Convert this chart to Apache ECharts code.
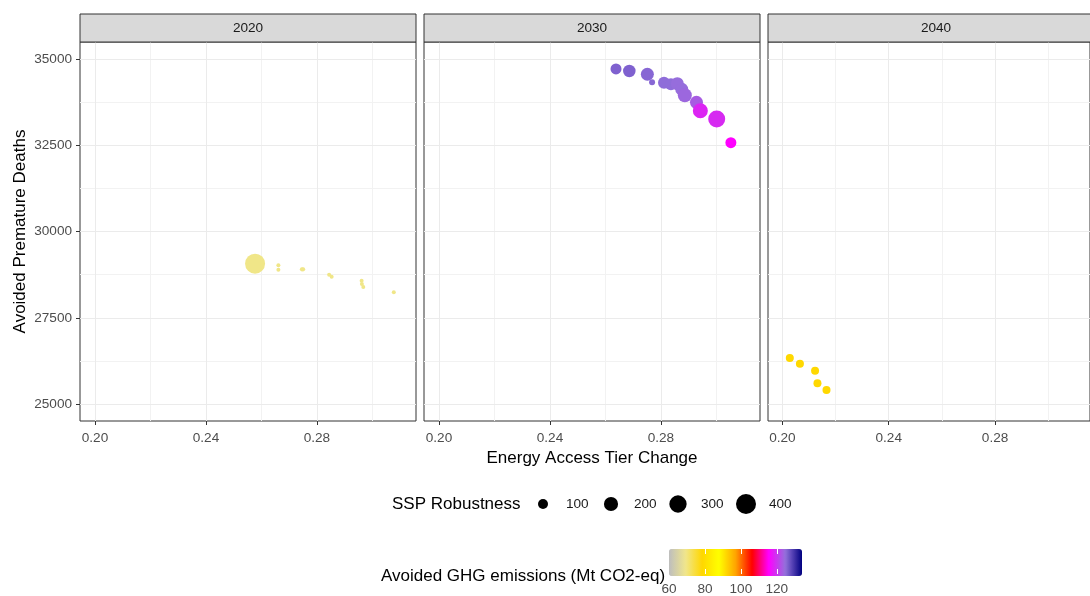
<!DOCTYPE html>
<html><head><meta charset="utf-8">
<script src="https://cdn.jsdelivr.net/npm/echarts@6/dist/echarts.min.js"></script>
<style>html,body{margin:0;padding:0;background:#fff}#c{width:1090px;height:596px}</style>
</head><body><div id="c"></div>
<script>
// ---------- data ----------
const years = ['2020', '2030', '2040'];

const tier2020   = [0.2577, 0.2661, 0.2661, 0.2746, 0.2750, 0.2844, 0.2853, 0.2961, 0.2962, 0.2967, 0.3077];
const deaths2020 = [29067, 29020, 28893, 28904, 28904, 28748, 28690, 28574, 28478, 28391, 28238];
const robust2020 = [400, 16, 16, 18, 18, 16, 16, 16, 16, 16, 16];
const ghg2020    = [69.5, 69.5, 69.5, 69.5, 69.5, 69.5, 69.5, 69.5, 69.5, 69.5, 69.5];

const tier2030   = [0.2638, 0.2686, 0.2751, 0.2768, 0.2811, 0.2836, 0.2859, 0.2875, 0.2886, 0.2928, 0.2942, 0.3001, 0.3052];
const deaths2030 = [34710, 34652, 34557, 34324, 34313, 34267, 34285, 34122, 33948, 33745, 33501, 33261, 32574];
const robust2030 = [121, 156, 169, 36, 144, 144, 169, 169, 196, 169, 225, 289, 121];
const ghg2030    = [126, 126, 125.5, 125.5, 125, 125, 124.5, 124.5, 124, 123, 118.5, 119, 115.5];

const tier2040   = [0.2028, 0.2066, 0.2123, 0.2132, 0.2166];
const deaths2040 = [26333, 26168, 25965, 25600, 25406];
const robust2040 = [64, 64, 64, 64, 64];
const ghg2040    = [78.8, 78.8, 78.8, 78.8, 78.8];

const xMajorTicks = [0.20, 0.24, 0.28];
const xMinorTicks = [0.22, 0.26, 0.30];
const yMajorTicks = [25000, 27500, 30000, 32500, 35000];
const yMinorTicks = [26250, 28750, 31250, 33750];
const sizeBreaks  = [100, 200, 300, 400];
const colorBreaks = [60, 80, 100, 120];
const colorStops  = ['#BEBEBE', '#F0E68C', '#FFD700', '#FFFF00', '#FFA500', '#FF0000', '#FF00FF', '#9370DB', '#000080'];

// ---------- layout ----------
const FONT = 'Liberation Sans, Arial, sans-serif';
const panelLeft = [80, 424, 768];
const panelW = 336, panelTop = 42, panelH = 379;
const xMin = 0.1946, xMax = 0.3157, yMin = 24508, yMax = 35492;
const ghgMin = 60, ghgMax = 134;
const sizeFn = v => Math.sqrt(v);

const seriesData = [
  tier2020.map((x, i) => [x, deaths2020[i], robust2020[i], ghg2020[i]]),
  tier2030.map((x, i) => [x, deaths2030[i], robust2030[i], ghg2030[i]]),
  tier2040.map((x, i) => [x, deaths2040[i], robust2040[i], ghg2040[i]])
];

const grids = [], xAxes = [], yAxes = [], series = [], graphics = [];

years.forEach((yr, i) => {
  grids.push({left: panelLeft[i], top: panelTop, width: panelW, height: panelH,
    show: true, borderColor: '#333333', borderWidth: 1, backgroundColor: '#fff'});
  xAxes.push({
    type: 'value', gridIndex: i, min: xMin, max: xMax,
    axisLine: {show: false}, splitLine: {show: false},
    axisTick: {show: true, length: 4, lineStyle: {color: '#333333', width: 1}, customValues: xMajorTicks},
    axisLabel: {customValues: xMajorTicks, formatter: v => v.toFixed(2), color: '#4D4D4D',
      fontSize: 13.6, fontFamily: FONT, margin: 10},
    name: i === 1 ? 'Energy Access Tier Change' : '',
    nameLocation: 'middle', nameGap: 26,
    nameTextStyle: {fontSize: 17, color: '#000', fontFamily: FONT}
  });
  yAxes.push({
    type: 'value', gridIndex: i, min: yMin, max: yMax,
    axisLine: {show: false}, splitLine: {show: false},
    axisTick: {show: i === 0, length: 4, lineStyle: {color: '#333333', width: 1}, customValues: yMajorTicks},
    axisLabel: {show: i === 0, customValues: yMajorTicks, formatter: v => String(v), color: '#4D4D4D',
      fontSize: 13.6, fontFamily: FONT, margin: 8},
    name: i === 0 ? 'Avoided Premature Deaths' : '',
    nameLocation: 'middle', nameGap: 51,
    nameTextStyle: {fontSize: 17, color: '#000', fontFamily: FONT}
  });
  // gridlines via markLine
  const minorStyle = {lineStyle: {color: '#F2F2F2', width: 1, type: 'solid'}};
  series.push({
    type: 'scatter', xAxisIndex: i, yAxisIndex: i, data: [], silent: true, z: 1,
    markLine: {
      silent: true, symbol: 'none', animation: false, label: {show: false},
      lineStyle: {color: '#EBEBEB', width: 1, type: 'solid'},
      emphasis: {disabled: true},
      data: [
        ...xMinorTicks.map(v => Object.assign({xAxis: v}, minorStyle)),
        ...yMinorTicks.map(v => Object.assign({yAxis: v}, minorStyle)),
        ...xMajorTicks.map(v => ({xAxis: v})),
        ...yMajorTicks.map(v => ({yAxis: v}))
      ]
    }
  });
  // strip
  graphics.push({type: 'rect', shape: {x: panelLeft[i], y: 14, width: panelW, height: 28},
    style: {fill: '#D9D9D9', stroke: '#333333', lineWidth: 1}, z: 10});
  graphics.push({type: 'text', x: panelLeft[i] + panelW / 2, y: 28,
    style: {text: yr, fill: '#1A1A1A', font: '13.6px ' + FONT, align: 'center', verticalAlign: 'middle'}, z: 11});
});

const dataSeriesIdx = [];
years.forEach((yr, i) => {
  dataSeriesIdx.push(series.length);
  series.push({
    type: 'scatter', name: yr, xAxisIndex: i, yAxisIndex: i, z: 5,
    data: seriesData[i],
    symbolSize: v => sizeFn(v[2]),
    itemStyle: {opacity: 1},
    emphasis: {disabled: true}
  });
});

// colorbar axes (grid 3)
grids.push({left: 669, top: 549, width: 133, height: 27, show: false});
xAxes.push({
  type: 'value', gridIndex: 3, min: ghgMin, max: ghgMax, z: 10,
  axisLine: {show: false}, splitLine: {show: false},
  axisTick: {show: true, inside: true, length: 5, lineStyle: {color: '#fff', width: 1}, customValues: colorBreaks.slice(1)},
  axisLabel: {customValues: colorBreaks, color: '#4D4D4D', fontSize: 13.6, fontFamily: FONT, margin: 8}
});
xAxes.push({
  type: 'value', gridIndex: 3, position: 'top', min: ghgMin, max: ghgMax, z: 10,
  axisLine: {show: false}, splitLine: {show: false},
  axisTick: {show: true, inside: true, length: 5, lineStyle: {color: '#fff', width: 1}, customValues: colorBreaks.slice(1)},
  axisLabel: {show: false}
});
yAxes.push({type: 'value', gridIndex: 3, min: 0, max: 1, show: false});
series.push({type: 'scatter', xAxisIndex: 3, yAxisIndex: 3, data: [], silent: true});

// size legend
graphics.push({type: 'text', x: 392, y: 504,
  style: {text: 'SSP Robustness', fill: '#000', font: '17px ' + FONT, verticalAlign: 'middle'}});
const sizeKeyX = [543, 611, 678, 746];
sizeBreaks.forEach((b, k) => {
  graphics.push({type: 'circle', shape: {cx: sizeKeyX[k], cy: 504, r: sizeFn(b) / 2}, style: {fill: '#000'}});
  graphics.push({type: 'text', x: sizeKeyX[k] + 23, y: 504,
    style: {text: String(b), fill: '#1A1A1A', font: '13.6px ' + FONT, verticalAlign: 'middle'}});
});
// color legend title
graphics.push({type: 'text', x: 381, y: 576,
  style: {text: 'Avoided GHG emissions (Mt CO2-eq)', fill: '#000', font: '17px ' + FONT, verticalAlign: 'middle'}});

const option = {
  animation: false,
  backgroundColor: '#fff',
  grid: grids, xAxis: xAxes, yAxis: yAxes, series: series,
  visualMap: {
    type: 'continuous', min: ghgMin, max: ghgMax, dimension: 3, seriesIndex: dataSeriesIdx,
    orient: 'horizontal', left: 669, top: 549, itemWidth: 27, itemHeight: 133,
    calculable: false, padding: 0, hoverLink: false,
    inRange: {color: colorStops}
  },
  graphic: graphics
};
const chart = echarts.init(document.getElementById('c'));
chart.setOption(option);
</script>
</body></html>
